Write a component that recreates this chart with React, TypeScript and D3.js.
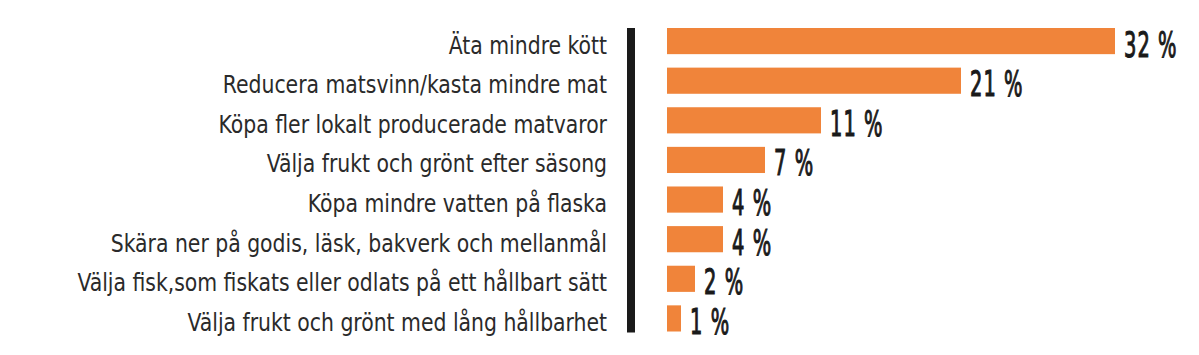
import React from "react";
import * as d3 from "d3";

const categories = [
  "Äta mindre kött",
  "Reducera matsvinn/kasta mindre mat",
  "Köpa fler lokalt producerade matvaror",
  "Välja frukt och grönt efter säsong",
  "Köpa mindre vatten på flaska",
  "Skära ner på godis, läsk, bakverk och mellanmål",
  "Välja fisk,som fiskats eller odlats på ett hållbart sätt",
  "Välja frukt och grönt med lång hållbarhet",
];
const values = [32, 21, 11, 7, 4, 4, 2, 1];

export default function App() {
  const W = 1199, H = 355;
  const x = d3.scaleLinear().domain([0, 32]).range([667, 1115]);
  const y = d3.scaleBand<string>().domain(categories).range([28, 331.5]).paddingInner(0.34).paddingOuter(0);
  const labelFont = "'DejaVu Sans Condensed', 'Liberation Sans Narrow', sans-serif";
  const first = y(categories[0])!;
  const last = y(categories[categories.length - 1])! + y.bandwidth();
  return (
    <svg width={W} height={H} style={{ display: "block", margin: "-8px 0 0 -8px" }}>
      <rect x={0} y={0} width={W} height={H} fill="#fff" />
      <rect x={627} y={first} width={8} height={last - first + 1} fill="#1a1a1a" />
      {categories.map((c, i) => {
        const cy = y(c)! + y.bandwidth() / 2;
        return (
          <g key={c}>
            <text
              transform={`translate(607,${cy + 12.5}) scale(0.945,1)`}
              textAnchor="end"
              fontFamily={labelFont}
              fontSize={24}
              fill="#2a2a2a"
            >
              {c}
            </text>
            <rect x={x(0)} y={y(c)!} width={x(values[i]) - x(0)} height={y.bandwidth()} fill="#F0843A" />
            <text
              transform={`translate(${x(values[i]) + 9},${cy + 15.5}) scale(0.6,1)`}
              fontFamily={labelFont}
              fontWeight="normal"
              fontSize={36}
              letterSpacing={1.8}
              fill="#1a1a1a"
              stroke="#1a1a1a"
              strokeWidth={1.1}
            >
              {values[i] + " %"}
            </text>
          </g>
        );
      })}
    </svg>
  );
}
